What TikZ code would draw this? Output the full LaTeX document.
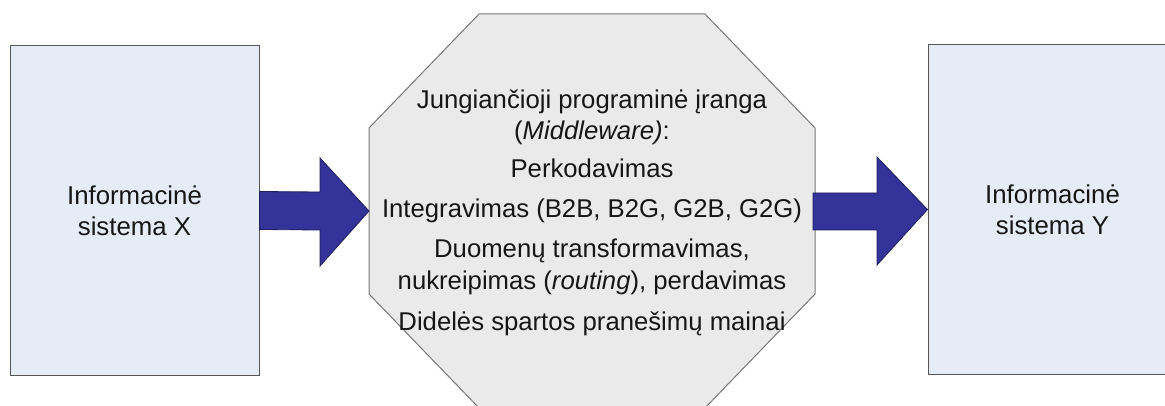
\documentclass[tikz,border=0pt]{standalone}
\usepackage{fontspec}
\setmainfont{Liberation Sans}
\usetikzlibrary{calc}
\definecolor{boxfill}{HTML}{E6ECF6}
\definecolor{boxline}{HTML}{555555}
\definecolor{octfill}{HTML}{EAEAEA}
\definecolor{octline}{HTML}{777777}
\definecolor{arrowfill}{HTML}{333399}
\definecolor{arrowline}{HTML}{1F1F5C}
\definecolor{txt}{HTML}{161616}
\begin{document}
\begin{tikzpicture}[x=1pt,y=-1pt,
  sysbox/.style={draw=boxline, fill=boxfill, line width=1pt, minimum width=249pt, minimum height=329pt,
    inner sep=0pt, align=center, text=txt, font=\fontsize{25.8}{31}\selectfont},
  octshape/.style={draw=octline, fill=octfill, line width=1pt, line join=miter},
  octtext/.style={anchor=base, inner sep=0pt, text=txt, font=\fontsize{25.7}{31}\selectfont},
  blockarrow/.style={fill=arrowfill, draw=arrowline, line width=0.8pt, line join=miter}]
\useasboundingbox (0,0) rectangle (1165,406);
\clip (0,0) rectangle (1165,406);
% systems
\node[sysbox] (X) at (134.5,210.5) {Informacinė\\sistema X};
\node[sysbox] (Y) at (1052.5,209.5) {Informacinė\\sistema Y};
% middleware octagon
\draw[octshape] (479,14) -- (705,14) -- (815,128) -- (815,294) -- (705,408) -- (479,408) -- (369,294) -- (369,128) -- cycle;
\coordinate (octW) at (369,211);
\coordinate (octE) at (815,211);
\node[octtext] (t1) at (592,109) {Jungiančioji programinė įranga};
\node[octtext] (t2) at (592,140) {(\textit{Middleware)}:};
\node[octtext] (t3) at (592,178) {Perkodavimas};
\node[octtext] (t4) at (592,218) {Integravimas (B2B, B2G, G2B, G2G)};
\node[octtext] (t5) at (592,258) {Duomenų transformavimas,};
\node[octtext] (t6) at (592,290) {nukreipimas (\textit{routing}), perdavimas};
\node[octtext] (t7) at (592,330) {Didelės spartos pranešimų mainai};
% arrows
\draw[blockarrow] ([yshift=19pt]X.east) -- (320,192) -- (320,158) -- (octW) -- (320,266) -- (320,230) -- ([yshift=-19pt]X.east) -- cycle;
\draw[blockarrow] ($(octE)+(-2,-18)$) -- (877,193) -- (877,157) -- (Y.west) -- (877,265) -- (877,230) -- ($(octE)+(-2,19)$) -- cycle;
\end{tikzpicture}
\end{document}
